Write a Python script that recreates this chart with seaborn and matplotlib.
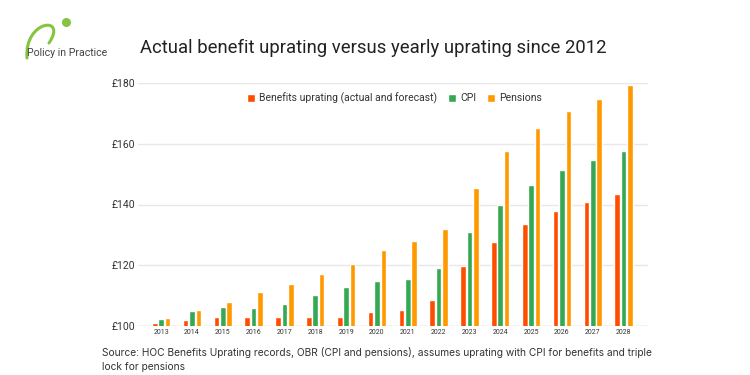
import matplotlib
matplotlib.use("Agg")
import matplotlib.pyplot as plt
import seaborn as sns
import pandas as pd
from matplotlib.path import Path
from matplotlib.patches import PathPatch

# values
years = [str(y) for y in range(2013, 2029)]
benefits = [100.9, 102.1, 103.0, 103.0, 103.0, 103.0, 103.0, 104.7,
            105.3, 108.6, 119.6, 127.6, 133.5, 138.0, 140.9, 143.6]
cpi = [102.2, 104.9, 106.2, 106.0, 107.1, 110.2, 113.0, 114.8,
       115.6, 119.0, 131.1, 140.0, 146.3, 151.4, 154.7, 157.7]
pensions = [102.5, 105.3, 107.8, 111.1, 113.7, 117.1, 120.3, 124.9,
            128.0, 132.0, 145.4, 157.7, 165.2, 170.8, 174.7, 179.5]
series = ['Benefits uprating (actual and forecast)', 'CPI', 'Pensions']
colors = ['#ff4d00', '#34a853', '#ff9900']
ytick_vals = [100, 120, 140, 160, 180]
ytick_labels = ['£100', '£120', '£140', '£160', '£180']

title = 'Actual benefit uprating versus yearly uprating since 2012'
source = ['Source: HOC Benefits Uprating records, OBR (CPI and pensions), assumes uprating with CPI for benefits and triple',
          'lock for pensions']

sns.set_style('whitegrid', {'axes.facecolor': '#ffffff'})
plt.rcParams['font.family'] = ['Roboto', 'DejaVu Sans']

df = pd.DataFrame({'year': years, series[0]: benefits, series[1]: cpi, series[2]: pensions})
df = df.melt(id_vars='year', var_name='series', value_name='value')

fig = plt.figure(figsize=(7.5, 3.75), dpi=100)

# background axes in pixel units for the logo
bg = fig.add_axes([0, 0, 1, 1], zorder=-1)
bg.set_xlim(0, 750)
bg.set_ylim(375, 0)
bg.axis('off')
verts = [(27, 58), (24, 20), (68, 15), (49, 43)]
path = Path(verts, [Path.MOVETO, Path.CURVE4, Path.CURVE4, Path.CURVE4])
bg.add_patch(PathPatch(path, facecolor='none', edgecolor='#86c440', lw=2.2, capstyle='round'))
bg.plot([66], [22], 'o', color='#86c440', ms=5.5)
bg.text(27, 53, 'Policy in Practice', fontsize=7.6, color='#444444', va='center')

ax = fig.add_axes([138 / 750, 1 - 326 / 375, 510 / 750, 243 / 375])
sns.barplot(data=df, x='year', y='value', hue='series', palette=colors,
            width=0.62, gap=0.12, saturation=1, ax=ax)

ax.set_ylim(100, 180)
ax.set_xlim(-0.75, 15.79)
ax.set_yticks(ytick_vals, ytick_labels)
ax.tick_params(axis='y', labelsize=7.5, colors='#333333', length=0, pad=2)
ax.tick_params(axis='x', labelsize=5, colors='#333333', length=0, pad=2)
ax.set_xlabel('')
ax.set_ylabel('')
ax.grid(axis='x', visible=False)
ax.grid(axis='y', color='#e8e8e8', lw=1)
ax.set_axisbelow(True)
for s in ax.spines.values():
    s.set_visible(False)
ax.axhline(100, color='#d6d6d6', lw=1, zorder=0.5)

ax.legend(loc='center', bbox_to_anchor=(0.503, 0.938), ncol=3, frameon=False,
          fontsize=7.5, handlelength=0.8, handleheight=0.8, handletextpad=0.4,
          columnspacing=1.0, labelcolor='#333333')

fig.text(140 / 750, 1 - 48 / 375, title, fontsize=13.3, color='#222222', va='center')

for i, line in enumerate(source):
    fig.text(102 / 750, 1 - (352 + 15 * i) / 375, line, fontsize=7.35,
             family=['Inter', 'DejaVu Sans'], color='#333333', va='center')

fig.savefig('out.png', dpi=100)
